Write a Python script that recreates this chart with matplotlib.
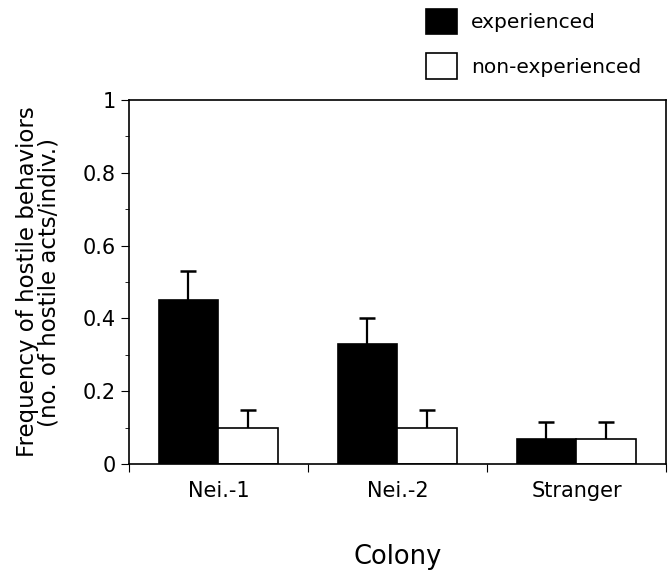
import numpy as np
import matplotlib.pyplot as plt
import matplotlib.ticker as ticker

colonies = ['Nei.-1', 'Nei.-2', 'Stranger']
experienced = [0.45, 0.33, 0.07]
experienced_err = [0.08, 0.07, 0.045]
non_experienced = [0.10, 0.10, 0.07]
non_experienced_err = [0.048, 0.048, 0.045]

fig = plt.figure(figsize=(6.7, 5.73), dpi=100)
ax = fig.add_axes([0.1925, 0.190, 0.8015, 0.6355])

x = np.arange(len(colonies))
w = 0.335


def bars(pos, vals, errs, face, label):
    ax.bar(pos, vals, w, color=face, edgecolor='black', linewidth=1.2, label=label)
    tops = np.array(vals) + np.array(errs)
    # upward error only, cap at the top
    ax.vlines(pos, vals, tops, color='black', linewidth=1.6)
    ax.plot(pos, tops, linestyle='none', marker='_', markersize=11,
            markeredgewidth=1.8, color='black')


bars(x - w / 2, experienced, experienced_err, 'black', 'experienced')
bars(x + w / 2, non_experienced, non_experienced_err, 'white', 'non-experienced')

ax.set_xlim(-0.5, 2.5)
ax.set_ylim(0, 1)
ax.set_yticks([0, 0.2, 0.4, 0.6, 0.8, 1])
ax.yaxis.set_major_formatter(ticker.FuncFormatter(lambda v, p: f'{v:g}'))
ax.yaxis.set_minor_locator(ticker.MultipleLocator(0.1))
ax.set_xticks([-0.5, 0.5, 1.5, 2.5])
ax.set_xticklabels([])
ax.set_xticks(x, minor=True)
ax.set_xticklabels(colonies, minor=True, fontsize=15)
ax.tick_params(axis='x', which='minor', length=0, pad=12)
ax.tick_params(axis='x', which='major', length=6, direction='out')
ax.tick_params(axis='y', which='major', length=6, labelsize=15)
ax.tick_params(axis='y', which='minor', length=3)
for s in ax.spines.values():
    s.set_linewidth(1.2)

ax.set_ylabel('Frequency of hostile behaviors\n(no. of hostile acts/indiv.)',
              fontsize=16.5, linespacing=0.9, labelpad=16)
ax.set_xlabel('Colony', fontsize=18.5, labelpad=31)

fig.legend(loc='upper left', bbox_to_anchor=(0.622, 1.0), frameon=False,
           fontsize=14.5, handlelength=1.55, handleheight=1.55,
           labelspacing=0.95, handletextpad=0.7, borderpad=0.25, borderaxespad=0.2)

plt.savefig('out.png', dpi=100)
